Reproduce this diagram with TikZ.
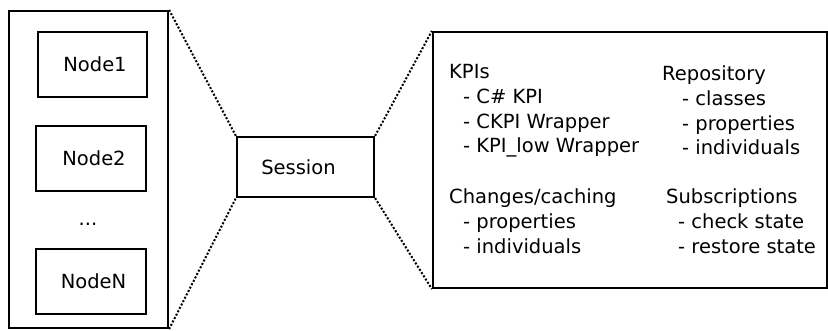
\documentclass[tikz,border=0pt]{standalone}
\usepackage{fontspec}
\setmainfont{DejaVu Sans}
\usetikzlibrary{positioning}

\begin{document}
\begin{tikzpicture}[x=1pt,y=-1pt,
  every node/.style={font=\fontsize{19.5}{24.8}\selectfont},
  box/.style={draw,line width=2.2pt,inner sep=0pt},
  zoomline/.style={line width=2pt,dash pattern=on 2pt off 1.8pt},
  txt/.style={anchor=north west,inner sep=0pt,align=left}]
\useasboundingbox (0,0) rectangle (828,331);

% node list
\node (outer) at (88.5,169.5) [box,minimum width=159pt,minimum height=317pt] {};
\node (n1) at (92.5,64.5) [box,minimum width=109pt,minimum height=65pt] {\hspace*{5pt}Node1};
\node (n2) at (91,158.5) [box,minimum width=110pt,minimum height=65pt] {\hspace*{6pt}Node2};
\node (dots) at (88,224) [inner sep=0pt] {...};
\node (nN) at (91,281.5) [box,minimum width=110pt,minimum height=65pt] {\hspace*{5pt}NodeN};

% session
\node (session) at (305.5,167) [box,minimum width=137pt,minimum height=60pt] {Session\hspace*{14pt}};

% session contents
\node (detail) at (630,160) [box,minimum width=394pt,minimum height=256pt] {};
\node (kpis) at (449,64) [txt] {KPIs\\\hspace*{14pt}- C\# KPI\\\hspace*{14pt}- CKPI Wrapper\\\hspace*{14pt}- KPI\_low Wrapper};
\node (changes) at (449,188.5) [txt] {Changes/caching\\\hspace*{14pt}- properties\\\hspace*{14pt}- individuals};
\node (repo) at (662,65.5) [txt] {Repository\\\hspace*{20pt}- classes\\\hspace*{20pt}- properties\\\hspace*{20pt}- individuals};
\node (subs) at (666,188.5) [txt] {Subscriptions\\\hspace*{12pt}- check state\\\hspace*{12pt}- restore state};

\draw[zoomline] (outer.north east) -- (session.north west);
\draw[zoomline] (outer.south east) -- (session.south west);
\draw[zoomline] (session.north east) -- (detail.north west);
\draw[zoomline] (session.south east) -- (detail.south west);
\end{tikzpicture}
\end{document}
